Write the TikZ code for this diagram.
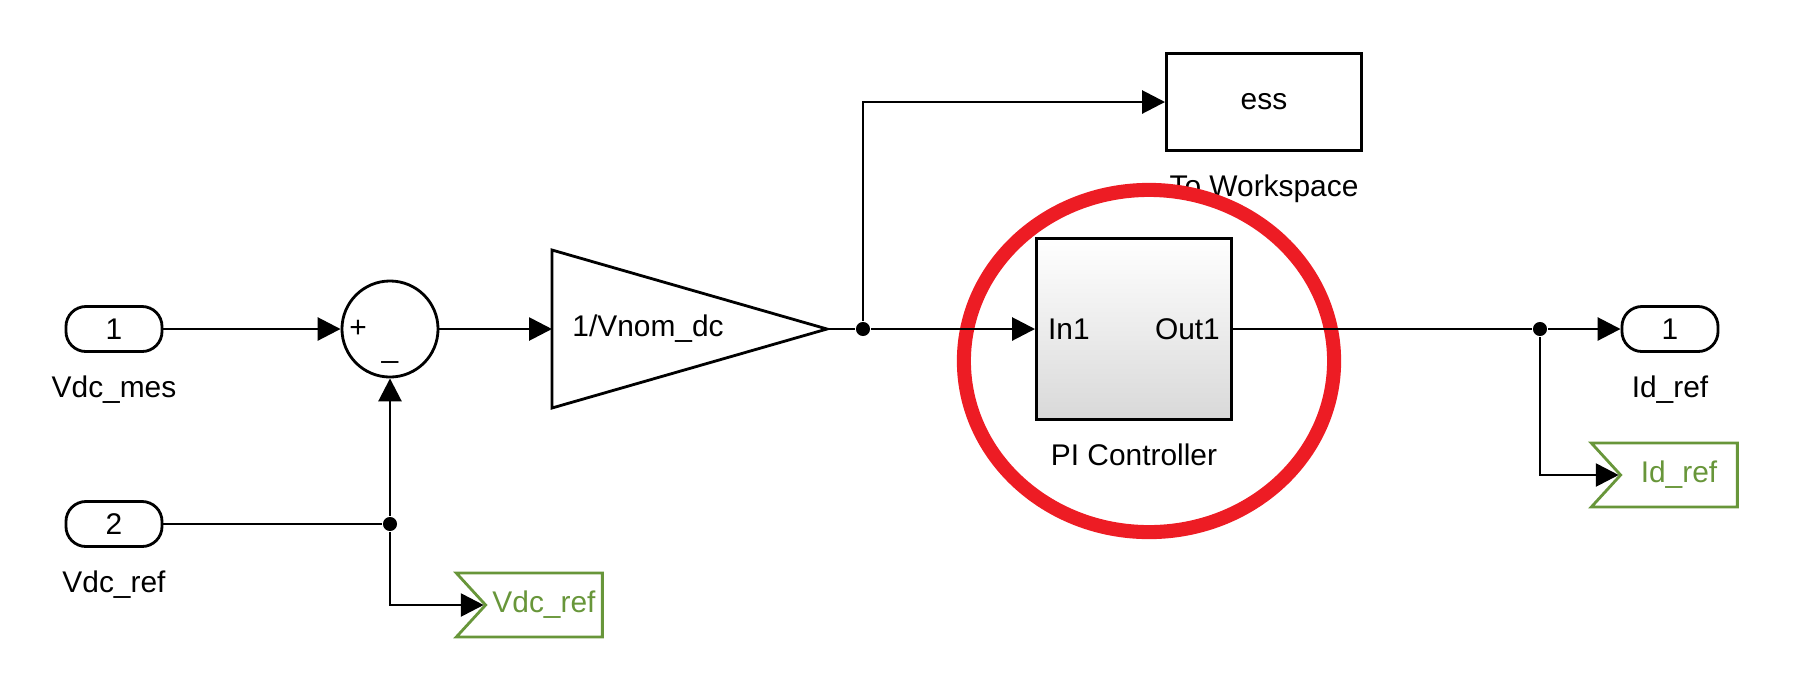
\documentclass[tikz,border=0pt]{standalone}
\usepackage{fontspec}
\setmainfont{Liberation Sans}
\usetikzlibrary{arrows.meta,shapes.symbols,positioning}
\definecolor{simgreen}{RGB}{104,150,58}
\definecolor{simred}{RGB}{237,28,36}

\begin{document}
\begin{tikzpicture}[x=0.01cm,y=-0.01cm,>={Triangle[length=6.5pt,width=6.5pt]},
                    line width=0.8pt,font=\fontsize{8.5}{10}\selectfont,
                    port/.style={draw,rounded corners=0.2cm,minimum width=0.96cm,
                                 minimum height=0.45cm,inner sep=0pt},
                    gototag/.style={draw=simgreen,text=simgreen,signal,signal from=west,
                                    signal to=nowhere,signal pointer angle=95,
                                    minimum width=1.46cm,minimum height=0.64cm,
                                    inner sep=1pt,align=right},
                    dot/.style={circle,fill,inner sep=0pt,minimum size=4pt}]
  \useasboundingbox (0,0) rectangle (1814,693);

  % inputs
  \node [port] (in1) at (114,329) {1};
  \node [below=0.1cm of in1] {Vdc\_mes};
  \node [port] (in2) at (114,524) {2};
  \node [below=0.1cm of in2] {Vdc\_ref};

  % sum
  \node [draw,circle,minimum size=0.96cm,inner sep=0pt] (sum) at (390,329) {};
  \node at (358,329) {+};
  \node at (390,360) {\_};
  \node [dot] (j1) at (390,524) {};
  \node [gototag] (gvdc) at (544,605) {Vdc\_ref};

  % gain
  \draw (552,250) -- (827,329) -- (552,408) -- cycle;
  \coordinate (gin) at (552,329);
  \coordinate (gout) at (827,329);
  \node at (648,329) {1/Vnom\_dc};
  \node [dot] (j2) at (863,329) {};

  % workspace and controller
  \node [draw,minimum width=1.95cm,minimum height=0.97cm] (ess) at (1264,102) {ess};
  \node [below=0.1cm of ess] {To Workspace};
  \node [draw,top color=white,bottom color=black!15,minimum width=1.95cm,
         minimum height=1.81cm] (pi) at (1134,329) {};
  \node [anchor=west] at (pi.west) {In1};
  \node [anchor=east] at (pi.east) {Out1};
  \node [below=0.1cm of pi] {PI Controller};
  \draw [simred,line width=4pt] (1149,361) ellipse [x radius=1.85cm,y radius=1.71cm];

  % outputs
  \node [dot] (j3) at (1540,329) {};
  \node [port] (out1) at (1670,329) {1};
  \node [below=0.1cm of out1] {Id\_ref};
  \node [gototag] (gid) at (1679,475) {Id\_ref};

  % connectors
  \draw [->] (in1) -- (sum);
  \draw [->] (in2) -- (j1) -- (sum);
  \draw [->] (j1) |- (gvdc);
  \draw [->] (sum) -- (gin);
  \draw (gout) -- (j2);
  \draw [->] (j2) -- (pi);
  \draw [->] (j2) |- (ess);
  \draw (pi) -- (j3);
  \draw [->] (j3) -- (out1);
  \draw [->] (j3) |- (gid);
\end{tikzpicture}
\end{document}
